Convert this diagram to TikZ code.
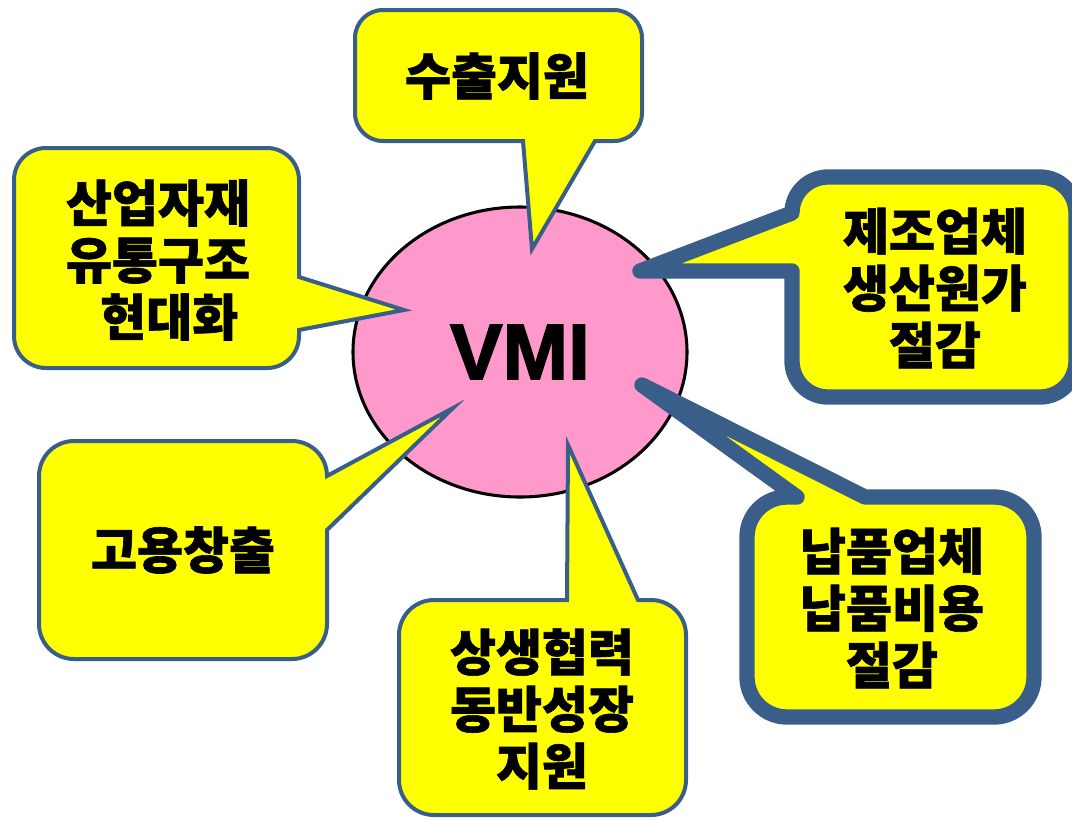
\documentclass[tikz,border=0pt]{standalone}
\usepackage{fontspec}
\newfontfamily\kr{Noto Sans CJK KR}[BoldFeatures={FakeBold=1.3}]
\newfontfamily\vmifont{Liberation Sans}[BoldFeatures={FakeBold=2}]
\usetikzlibrary{shapes.geometric}
\definecolor{bordercol}{RGB}{58,94,138}
\definecolor{pinkfill}{RGB}{255,153,204}
\definecolor{calloutyellow}{RGB}{255,255,0}
\begin{document}
\begin{tikzpicture}[x=0.75pt,y=-0.75pt,
  thinbox/.style={fill=calloutyellow, draw=bordercol, line width=3pt},
  thickbox/.style={fill=calloutyellow, draw=bordercol, line width=11.5pt, line join=round},
  krtext/.style={font=\kr\bfseries\fontsize{37.5}{42.75}\selectfont, align=center, inner sep=0pt},
  hub/.style={ellipse, fill=pinkfill, draw=black, line width=2.3pt, minimum width=250.5pt, minimum height=217.5pt, inner sep=0pt, font=\vmifont\bfseries\fontsize{59}{59}\selectfont}]
\useasboundingbox (0,0) rectangle (1072,819);
\clip (0,0) rectangle (1072,819);

% central hub
\node[hub] (vmi) at (520,352) {VMI};

% top callout
\draw[thinbox] (383,10) -- (614,10) arc[start angle=270,end angle=360,radius=28]
  -- (642,113) arc[start angle=0,end angle=90,radius=28]
  -- (595,141) -- (532,249) -- (523,141)
  -- (383,141) arc[start angle=90,end angle=180,radius=28]
  -- (355,38) arc[start angle=180,end angle=270,radius=28] -- cycle;
\node[krtext] (export) at (497,76) {수출지원};

% upper-left callout
\draw[thinbox] (46,148) -- (267,148) arc[start angle=270,end angle=360,radius=32]
  -- (299,277) -- (404,310) -- (299,330)
  -- (299,336) arc[start angle=0,end angle=90,radius=32]
  -- (46,368) arc[start angle=90,end angle=180,radius=32]
  -- (14,180) arc[start angle=180,end angle=270,radius=32] -- cycle;
\node[krtext] (distrib) at (158,260) {산업자재\\유통구조\\\hspace*{0.45em}현대화};

% upper-right callout (thick)
\draw[thickbox] (828,177) -- (1040,177) arc[start angle=270,end angle=360,radius=36]
  -- (1076,361) arc[start angle=0,end angle=90,radius=36]
  -- (828,397) arc[start angle=90,end angle=180,radius=36]
  -- (792,271) -- (640,271) -- (792,213)
  arc[start angle=180,end angle=270,radius=36] -- cycle;
\node[krtext] (maker) at (935,288) {제조업체\\생산원가\\절감};

% lower-right callout (thick)
\draw[thickbox] (787,497) -- (797,497) -- (642,385) -- (865,497)
  -- (994,497) arc[start angle=270,end angle=360,radius=40]
  -- (1034,677) arc[start angle=0,end angle=90,radius=40]
  -- (787,717) arc[start angle=90,end angle=180,radius=40]
  -- (747,537) arc[start angle=180,end angle=270,radius=40] -- cycle;
\node[krtext] (supplier) at (892,608) {납품업체\\납품비용\\절감};

% lower-left callout
\draw[thinbox] (74,441) -- (292,441) arc[start angle=270,end angle=360,radius=35]
  -- (453,408) -- (327,530)
  -- (327,624) arc[start angle=0,end angle=90,radius=35]
  -- (74,659) arc[start angle=90,end angle=180,radius=35]
  -- (39,476) arc[start angle=180,end angle=270,radius=35] -- cycle;
\node[krtext] (jobs) at (183,550) {고용창출};

% bottom callout
\draw[thinbox] (434,600) -- (567,600) -- (568,445) -- (638,600)
  -- (651,600) arc[start angle=270,end angle=360,radius=35]
  -- (686,780) arc[start angle=0,end angle=90,radius=35]
  -- (434,815) arc[start angle=90,end angle=180,radius=35]
  -- (399,635) arc[start angle=180,end angle=270,radius=35] -- cycle;
\node[krtext] (growth) at (542,709) {상생협력\\동반성장\\지원};
\end{tikzpicture}
\end{document}
